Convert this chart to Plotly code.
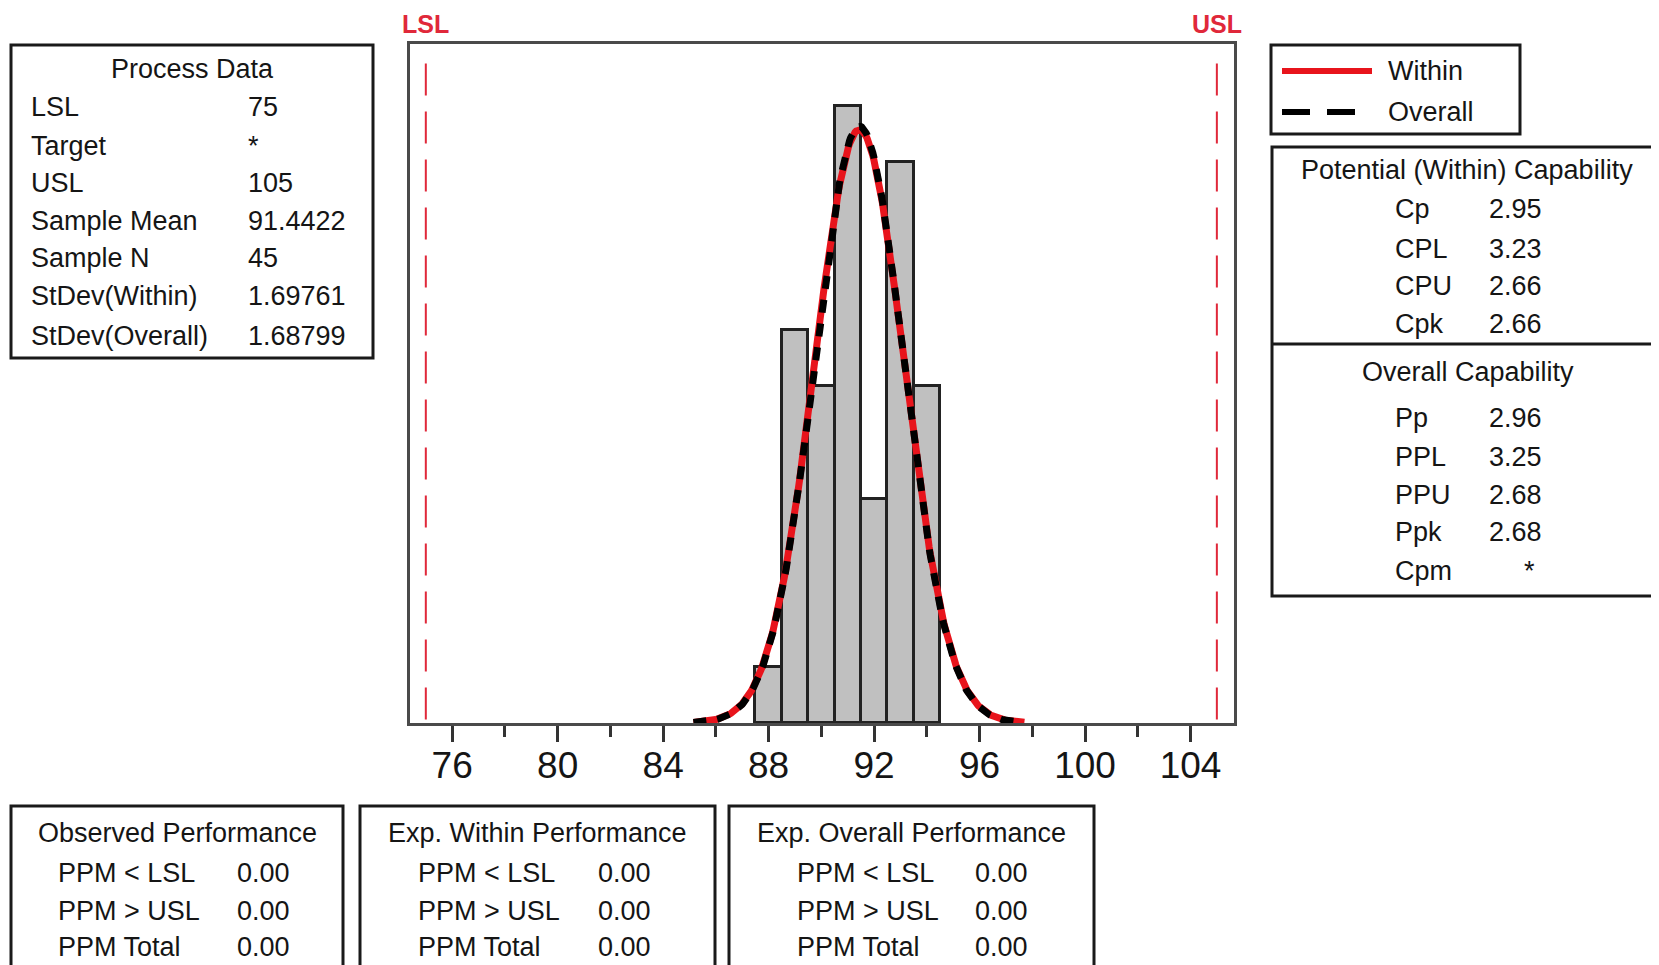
import numpy as np
import plotly.graph_objects as go

# ---------------- data ----------------
bin_centers = [88, 89, 90, 91, 92, 93, 94]
bin_counts = [1, 7, 6, 11, 4, 10, 6]
bin_width = 1.0

LSL = 75
USL = 105
sample_mean = 91.4422
sample_n = 45
sd_within = 1.69761
sd_overall = 1.68799
curve_start = 85.15
curve_end = 97.7

x_ticks = [76, 80, 84, 88, 92, 96, 100, 104]
x_minor_ticks = [78, 82, 86, 90, 94, 98, 102]

process_labels = ["LSL", "Target", "USL", "Sample Mean", "Sample N", "StDev(Within)", "StDev(Overall)"]
process_values = ["75", "*", "105", "91.4422", "45", "1.69761", "1.68799"]

within_labels = ["Cp", "CPL", "CPU", "Cpk"]
within_values = ["2.95", "3.23", "2.66", "2.66"]

overall_labels = ["Pp", "PPL", "PPU", "Ppk", "Cpm"]
overall_values = ["2.96", "3.25", "2.68", "2.68", "*"]

perf_titles = ["Observed Performance", "Exp. Within Performance", "Exp. Overall Performance"]
perf_labels = ["PPM < LSL", "PPM > USL", "PPM Total"]
perf_values = [["0.00", "0.00", "0.00"], ["0.00", "0.00", "0.00"], ["0.00", "0.00", "0.00"]]

# ---------------- layout geometry ----------------
OFF = 8                      # page body margin
W, H = 1659 - OFF, 965 - OFF
L, T = 410 - OFF, 44 - OFF
PLOT_RIGHT = 1234 - OFF
PLOT_BOTTOM = 723 - OFF
R = W - PLOT_RIGHT
B = H - PLOT_BOTTOM
PW = W - L - R
PH = H - T - B


def px(x):
    # x in screen pixels -> paper
    return (x - OFF - L) / PW


def py(y):
    return (PLOT_BOTTOM - (y - OFF)) / PH


FONT = "Liberation Sans, Arial, sans-serif"
TXT = "#151515"
FS = 27

fig = go.Figure()

fig.add_trace(go.Bar(
    x=bin_centers, y=bin_counts, width=bin_width,
    marker=dict(color="#c0c0c0", line=dict(color="#222222", width=3)),
    showlegend=False, hoverinfo="x+y",
))


def normal_curve(mu, sd):
    xs = np.linspace(curve_start, curve_end, 300)
    ys = sample_n * bin_width * np.exp(-0.5 * ((xs - mu) / sd) ** 2) / (sd * np.sqrt(2 * np.pi))
    return xs, ys


xw, yw = normal_curve(sample_mean, sd_within)
xo, yo = normal_curve(sample_mean, sd_overall)
fig.add_trace(go.Scatter(x=xw, y=yw, mode="lines", name="Within",
                         line=dict(color="#e8141c", width=7), showlegend=False))
fig.add_trace(go.Scatter(x=xo, y=yo, mode="lines", name="Overall",
                         line=dict(color="#000000", width=7, dash="13px,11px"), showlegend=False))

shapes = []
annotations = []

# spec limit lines
for v, name in [(LSL, "LSL"), (USL, "USL")]:
    shapes.append(dict(type="line", xref="x", yref="paper", x0=v, x1=v, y0=0.005, y1=0.975,
                       line=dict(color="#e0283a", width=2, dash="32px,16px")))
    annotations.append(dict(xref="x", yref="paper", x=v, y=py(24), text="<b>" + name + "</b>",
                            showarrow=False, xanchor="center", yanchor="middle",
                            font=dict(family=FONT, size=25, color="#e0283a")))


def rect(x0, y0, x1, y1):
    shapes.append(dict(type="rect", xref="paper", yref="paper",
                       x0=px(x0), x1=px(x1), y0=py(y0), y1=py(y1),
                       line=dict(color="#1a1a1a", width=3), fillcolor="rgba(0,0,0,0)"))


def text(x, y, s, anchor="left", size=FS):
    annotations.append(dict(xref="paper", yref="paper", x=px(x), y=py(y), text=s,
                            showarrow=False, xanchor=anchor, yanchor="middle",
                            font=dict(family=FONT, size=size, color=TXT)))


# Process data box
rect(11, 45, 373, 358)
text(192, 69, "Process Data", "center")
rows_y = [107, 146, 183, 221, 258, 296, 336]
for lab, val, y in zip(process_labels, process_values, rows_y):
    text(29, y, lab)
    text(246, y, val)

# legend box
rect(1271, 45, 1520, 134)
shapes.append(dict(type="line", xref="paper", yref="paper", x0=px(1282), x1=px(1372),
                   y0=py(71), y1=py(71), line=dict(color="#e8141c", width=6)))
shapes.append(dict(type="line", xref="paper", yref="paper", x0=px(1282), x1=px(1368),
                   y0=py(112), y1=py(112), line=dict(color="#000000", width=6, dash="28px,17px")))
text(1386, 71, "Within")
text(1386, 112, "Overall")

# capability box
rect(1272, 147, 1672, 596)
shapes.append(dict(type="line", xref="paper", yref="paper", x0=px(1272), x1=px(1672),
                   y0=py(344), y1=py(344), line=dict(color="#1a1a1a", width=3)))
text(1467, 170, "Potential (Within) Capability", "center")
for lab, val, y in zip(within_labels, within_values, [209, 249, 286, 324]):
    text(1393, y, lab)
    text(1487, y, val)
text(1468, 372, "Overall Capability", "center")
for lab, val, y in zip(overall_labels, overall_values, [418, 457, 495, 532, 571]):
    text(1393, y, lab)
    if val == "*":
        text(1529, y, val, "center")
    else:
        text(1487, y, val)

# bottom performance boxes
boxes = [(11, 343, 56, 235), (360, 715, 416, 596), (729, 1094, 795, 973)]
for (bx0, bx1, lx, vx), title, vals in zip(boxes, perf_titles, perf_values):
    rect(bx0, 806, bx1, 980)
    text((bx0 + bx1) / 2, 833, title, "center")
    for lab, val, y in zip(perf_labels, vals, [873, 911, 947]):
        text(lx, y, lab)
        text(vx, y, val)

fig.update_layout(
    width=W, height=H,
    margin=dict(l=L, r=R, t=T, b=B, pad=0),
    paper_bgcolor="white", plot_bgcolor="white",
    shapes=shapes, annotations=annotations,
    bargap=0, showlegend=False,
    xaxis=dict(range=[74.4, 105.65], tickvals=x_ticks, ticks="outside", ticklen=16, tickwidth=3,
               tickcolor="#333333", showgrid=False, zeroline=False, showline=True, linecolor="#4a4a4a",
               linewidth=3, mirror=True, ticklabelstandoff=-8,
               tickfont=dict(family=FONT, size=37, color=TXT),
               minor=dict(tickvals=x_minor_ticks, ticks="outside", ticklen=11,
                          tickwidth=3, tickcolor="#333333", showgrid=False)),
    yaxis=dict(range=[0, 12.1], showticklabels=False, ticks="", showgrid=False, zeroline=False,
               showline=True, linecolor="#4a4a4a", linewidth=3, mirror=True),
)

fig.write_html("out.html")
